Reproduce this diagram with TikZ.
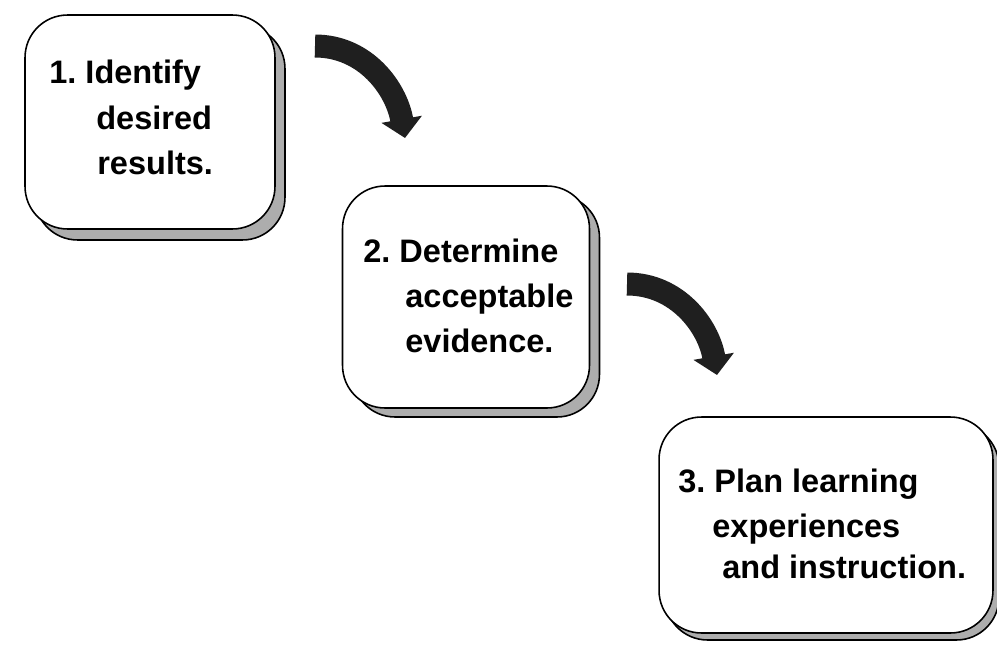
\documentclass[tikz,border=0pt]{standalone}
\usepackage{fontspec}
\setmainfont{Liberation Sans}
\usetikzlibrary{arrows.meta}
\tikzset{
  card/.style={draw=black, line width=0.9pt, fill=white, rounded corners=0.85cm, inner sep=0pt},
  shadowcard/.style={draw=black, line width=0.9pt, fill=black!32, rounded corners=0.85cm, inner sep=0pt},
  lbl/.style={anchor=base west, inner sep=0pt, font=\fontsize{18.5}{22}\selectfont\bfseries\frenchspacing},
  bigarrow/.style={line width=0.46cm, draw=black!88, -{Triangle[width=0.8cm,length=0.38cm]}}
}
\begin{document}
\begin{tikzpicture}[x=0.02cm,y=-0.02cm]
\useasboundingbox (0,0) rectangle (997,646);
\fill[white] (0,0) rectangle (997,646);

% shadows
\node[shadowcard, minimum width=5cm, minimum height=4.28cm] (s1) at (160,133) {};
\node[shadowcard, minimum width=4.94cm, minimum height=4.44cm] (s2) at (476,306) {};
\node[shadowcard, minimum width=6.68cm, minimum height=4.32cm] (s3) at (832,532) {};

% cards
\node[card, minimum width=5cm, minimum height=4.28cm] (b1) at (150,122) {};
\node[card, minimum width=4.94cm, minimum height=4.44cm] (b2) at (466,297) {};
\node[card, minimum width=6.68cm, minimum height=4.32cm] (b3) at (826,525) {};

% texts
\node[lbl] (t11) at (49,83) {1. Identify};
\node[lbl] (t12) at (96,129) {desired};
\node[lbl] (t13) at (97,174) {results.};

\node[lbl] (t21) at (363,262) {2. Determine};
\node[lbl] (t22) at (405,307) {acceptable};
\node[lbl] (t23) at (405,352) {evidence.};

\node[lbl] (t31) at (678,492) {3. Plan learning};
\node[lbl] (t32) at (712,537) {experiences};
\node[lbl] (t33) at (722,578) {and instruction.};

% arrows
\coordinate (a1s) at (315,46);
\coordinate (a1e) at (405,138);
\coordinate (a2s) at (627,284);
\coordinate (a2e) at (717,375);
\draw[bigarrow] (a1s) to[out=0,in=100] (a1e);
\draw[bigarrow] (a2s) to[out=0,in=100] (a2e);
\end{tikzpicture}
\end{document}
